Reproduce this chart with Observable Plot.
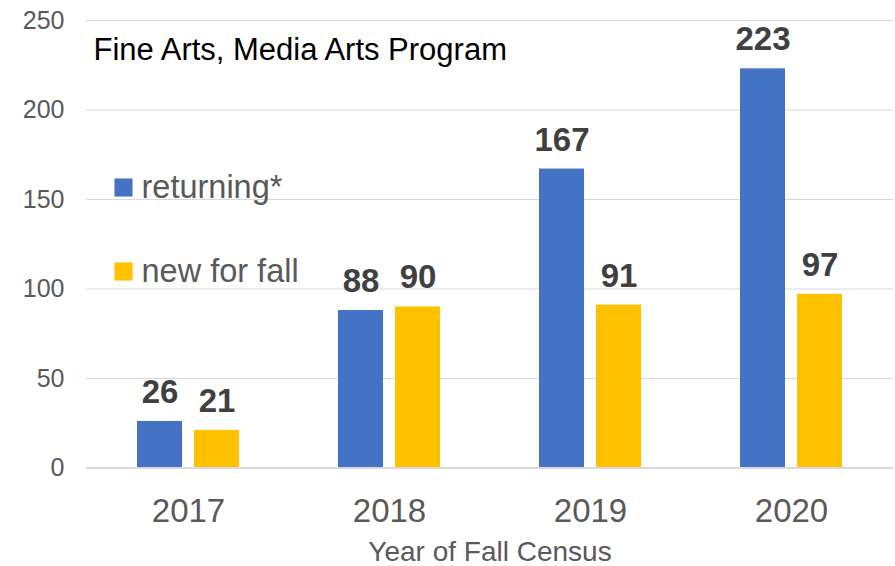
<!DOCTYPE html>
<html>
<head>
<meta charset="utf-8">
<script src="https://cdn.jsdelivr.net/npm/d3@7"></script>
<script src="https://cdn.jsdelivr.net/npm/@observablehq/plot@0.6"></script>
<style>
  html, body { margin: 0; padding: 0; background: #fff; }
  #chart { width: 895px; height: 566px; }
  svg { font-family: "Liberation Sans", Arial, sans-serif; }
</style>
</head>
<body>
<div id="chart"></div>
<script>
const years = ["2017", "2018", "2019", "2020"];
const returning = [26, 88, 167, 223];
const newForFall = [21, 90, 91, 97];
const yTicks = [0, 50, 100, 150, 200, 250];
const seriesNames = ["returning*", "new for fall"];
const seriesColors = ["#4472C4", "#FFC000"];
const title = "Fine Arts, Media Arts Program";
const xLabel = "Year of Fall Census";

const retData = years.map((y, i) => ({year: y, value: returning[i]}));
const newData = years.map((y, i) => ({year: y, value: newForFall[i]}));

const font = "'Liberation Sans', Arial, sans-serif";

const legendMarks = seriesNames.flatMap((name, i) => [
  Plot.dot([name], {frameAnchor: "top-left", dx: 37, dy: 167 + i * 84, symbol: "square", r: 10.2, fill: seriesColors[i], stroke: null}),
  Plot.text([name], {frameAnchor: "top-left", dx: 55, dy: 167 + i * 84, lineAnchor: "middle", textAnchor: "start", fontSize: 32.5, fill: "#595959"})
]);

const chart = Plot.plot({
  width: 895,
  height: 566,
  marginTop: 20,
  marginBottom: 98.5,
  marginLeft: 86,
  marginRight: 2,
  style: {fontFamily: font, background: "#fff"},
  x: {type: "band", domain: years, paddingInner: 0.4944, paddingOuter: 0.2472, label: null},
  y: {domain: [0, 250], label: null},
  marks: [
    Plot.ruleY(yTicks.filter(d => d > 0), {stroke: "#D9D9D9", strokeWidth: 1.2}),
    Plot.barY(retData, {x: "year", y: "value", fill: seriesColors[0], insetRight: 57, insetLeft: 0}),
    Plot.barY(newData, {x: "year", y: "value", fill: seriesColors[1], insetLeft: 57, insetRight: 0}),
    Plot.ruleY([0], {stroke: "#D9D9D9", strokeWidth: 2.2}),
    Plot.text(retData, {x: "year", y: "value", text: d => String(d.value), dx: -28.5, dy: -18.5, lineAnchor: "bottom", fontSize: 33, fontWeight: "bold", fill: "#404040"}),
    Plot.text(newData, {x: "year", y: "value", text: d => String(d.value), dx: 28.5, dy: -18.5, lineAnchor: "bottom", fontSize: 33, fontWeight: "bold", fill: "#404040"}),
    Plot.axisY({ticks: yTicks, tickSize: 0, tickPadding: 22, fontSize: 25, color: "#595959", label: null}),
    Plot.axisX({tickSize: 0, tickPadding: 31, fontSize: 33, color: "#595959", label: null}),
    Plot.text([xLabel], {frameAnchor: "bottom", dy: 93, lineAnchor: "bottom", fontSize: 28, fill: "#595959"}),
    Plot.text([title], {frameAnchor: "top-left", dx: 7, dy: 17, lineAnchor: "top", textAnchor: "start", fontSize: 31, fill: "#000"}),
    ...legendMarks
  ]
});
document.getElementById("chart").appendChild(chart);
</script>
</body>
</html>
